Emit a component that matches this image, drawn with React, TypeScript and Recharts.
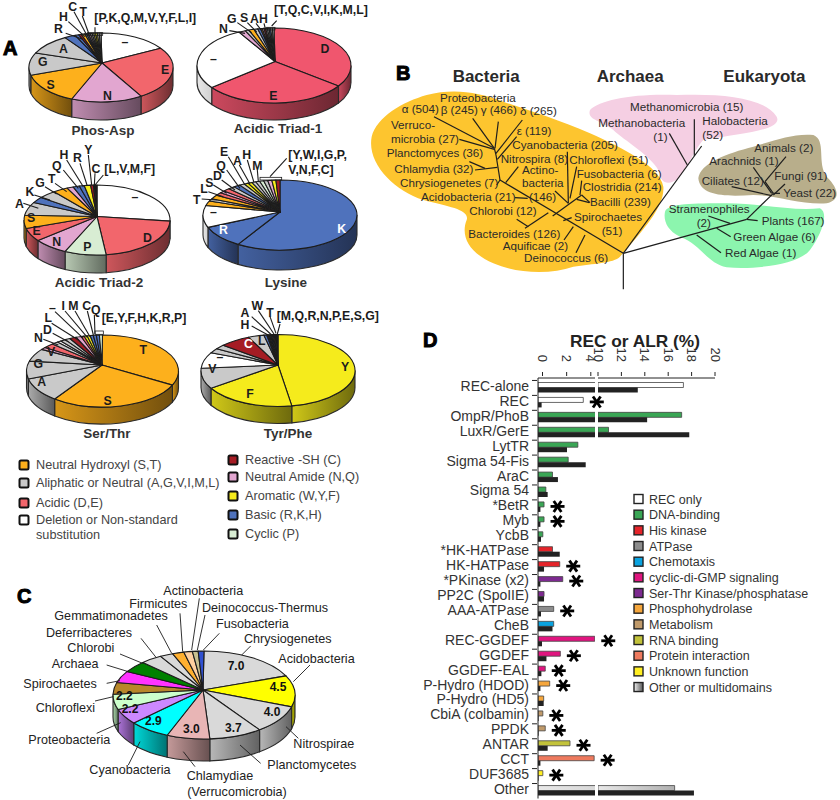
import { Bar, BarChart, Cell, ComposedChart, LabelList, Pie, PieChart, ReferenceLine, XAxis, YAxis } from "recharts";

const FONT = '"Liberation Sans", Arial, sans-serif';

// ---- residue groups (panel A) ----
const HYDROXYL = "#fdb01c";
const ALIPHATIC = "#c9c9c9";
const ACIDIC = "#f2666c";
const DELETION = "#ffffff";
const REACTIVE = "#a51c24";
const AMIDE = "#e2a6d0";
const AROMATIC = "#f5eb1c";
const BASIC = "#4f72bc";
const CYCLIC = "#d8edd3";

const residueColor: Record<string, string> = {
  S: HYDROXYL, T: HYDROXYL,
  A: ALIPHATIC, G: ALIPHATIC, V: ALIPHATIC, I: ALIPHATIC, M: ALIPHATIC, L: ALIPHATIC,
  D: ACIDIC, E: ACIDIC,
  "–": DELETION,
  C: REACTIVE,
  N: AMIDE, Q: AMIDE,
  W: AROMATIC, Y: AROMATIC, F: AROMATIC,
  R: BASIC, K: BASIC, H: BASIC,
  P: CYCLIC,
};

const phosAspResidues = ["–", "E", "N", "S", "G", "A", "R", "H", "C", "T", "P", "K", "Q", "M", "V", "Y", "F", "L", "I"];
const phosAspShares = [15.5, 25, 16, 14.7, 10.5, 9.7, 2.5, 0.8, 0.6, 0.8, 0.4, 0.4, 0.4, 0.4, 0.4, 0.4, 0.4, 0.4, 0.4];

const triad1Residues = ["D", "E", "–", "N", "G", "S", "A", "H", "T", "Q", "C", "V", "I", "K", "M", "L"];
const triad1Shares = [34.2, 30.8, 27.5, 1.4, 0.8, 1.1, 0.8, 0.6, 0.35, 0.35, 0.35, 0.35, 0.35, 0.35, 0.35, 0.35];

const triad2Residues = ["–", "D", "P", "N", "E", "S", "A", "K", "G", "T", "Q", "H", "R", "Y", "C", "L", "V", "M", "F"];
const triad2Shares = [25.5, 22.5, 9.2, 7.8, 6.1, 6.1, 6.1, 2.8, 3.9, 3.3, 1.4, 1.4, 1.1, 1.4, 0.6, 0.2, 0.2, 0.2, 0.2];

const lysineResidues = ["K", "R", "–", "T", "L", "S", "D", "Q", "E", "A", "H", "M", "Y", "W", "I", "G", "P", "V", "N", "F", "C"];
const lysineShares = [59.2, 10.1, 10.1, 2.2, 1.1, 1.9, 1.4, 1.1, 1.4, 1.4, 1.4, 1.1, 0.85, 0.85, 0.85, 0.85, 0.85, 0.85, 0.85, 0.85, 0.85];

const serThrResidues = ["T", "S", "A", "G", "V", "N", "D", "L", "–", "I", "M", "C", "Q", "E", "Y", "F", "H", "K", "R", "P"];
const serThrShares = [31.4, 29.4, 10.6, 8, 5.8, 1.1, 2.2, 1.4, 0.8, 1.1, 1.1, 1.4, 1.1, 0.65, 0.65, 0.65, 0.65, 0.65, 0.65, 0.65];

const tyrPheResidues = ["Y", "F", "V", "–", "I", "M", "C", "L", "H", "A", "W", "T", "Q", "R", "N", "P", "E", "S", "G", "K"];
const tyrPheShares = [47.2, 19.7, 9.2, 7.2, 2.2, 2, 6.4, 3.3, 0.6, 0.25, 0.25, 0.25, 0.2, 0.2, 0.2, 0.2, 0.2, 0.2, 0.2, 0.2];

// ---- panel C ----
const phylaNames = ["Chrysiogenetes", "Acidobacteria", "Nitrospirae", "Planctomycetes", "Chlamydiae", "Cyanobacteria", "Proteobacteria", "Chloroflexi", "Spirochaetes", "Archaea", "Chlorobi", "Deferribacteres", "Gemmatimonadetes", "Firmicutes", "Actinobacteria", "Deinococcus-Thermus", "Fusobacteria"];
const phylaValues = [7.0, 4.5, 4.0, 3.7, 3.0, 2.9, 2.2, 2.2, 1.7, 1.7, 1.7, 1.5, 0.9, 0.8, 0.6, 0.4, 0.4];
const phylaColors = ["#d9d9d9", "#ffff00", "#d9d9d9", "#d9d9d9", "#e8b5b5", "#00ffff", "#cc88ff", "#ccffcc", "#b8862a", "#ff33ff", "#008000", "#d9d9d9", "#d9d9d9", "#ffb030", "#ffd0a0", "#c8c090", "#3050d0"];

function shade(hex: string, f: number) {
  const n = parseInt(hex.slice(1), 16);
  const c = [n >> 16, (n >> 8) & 255, n & 255].map((v) => Math.round(v * f));
  return `rgb(${c[0]},${c[1]},${c[2]})`;
}

interface Geo { cx: number; cy: number; rx: number; ry: number; depth: number; hubX: number; hubY: number; }

// flat disc seen at an angle: recharts gives the angles, this squashes them
function tiltedSector(geo: Geo) {
  return function TiltedSector(props: any) {
    const { startAngle, endAngle, fill } = props;
    const { rx, ry, depth, hubX, hubY } = geo;
    const cx = props.cx;
    const cy = props.cy;
    const pt = (t: number, dy = 0) => {
      const a = (t * Math.PI) / 180;
      return `${(cx + rx * Math.sin(a)).toFixed(2)} ${(cy - ry * Math.cos(a) + dy).toFixed(2)}`;
    };
    const t0 = 90 - startAngle;
    const t1 = 90 - endAngle;
    const w0 = Math.max(t0, 90);
    const w1 = Math.min(t1, 270);
    const large = t1 - t0 > 180 ? 1 : 0;
    return (
      <g>
        {w1 > w0 && (
          <path
            d={`M${pt(w0)} A${rx} ${ry} 0 0 1 ${pt(w1)} L${pt(w1, depth)} A${rx} ${ry} 0 0 0 ${pt(w0, depth)} Z`}
            fill={`url(#side${fill.slice(1)})`}
            stroke="#2a2a2a"
            strokeWidth={1.1}
          />
        )}
        <path
          d={`M${hubX} ${hubY} L${pt(t0)} A${rx} ${ry} 0 ${large} 1 ${pt(t1)} Z`}
          fill={fill}
          stroke="#1c1c1c"
          strokeWidth={1.1}
          strokeLinejoin="round"
        />
      </g>
    );
  };
}

const table = (names: string[], values: number[], colors: string[]) =>
  names.map((name, i) => ({ name, value: values[i], fill: colors[i] }));
const residueTable = (names: string[], values: number[]) =>
  table(names, values, names.map((n) => residueColor[n]));

const pies: { data: any[]; geo: Geo }[] = [
  { data: residueTable(phosAspResidues, phosAspShares), geo: { cx: 101, cy: 67.5, rx: 72, ry: 34.5, depth: 18, hubX: 102, hubY: 63 } },
  { data: residueTable(triad1Residues, triad1Shares).map((d) => (d.fill === ACIDIC ? { ...d, fill: "#f0566e" } : d)), geo: { cx: 274, cy: 65.5, rx: 77, ry: 37.5, depth: 17, hubX: 275, hubY: 61.5 } },
  { data: residueTable(triad2Residues, triad2Shares), geo: { cx: 97, cy: 220, rx: 73, ry: 35, depth: 18, hubX: 97, hubY: 216.5 } },
  { data: residueTable(lysineResidues, lysineShares), geo: { cx: 280, cy: 215, rx: 77, ry: 35, depth: 20, hubX: 280, hubY: 212 } },
  { data: residueTable(serThrResidues, serThrShares), geo: { cx: 102.5, cy: 371, rx: 76, ry: 36, depth: 17, hubX: 102, hubY: 365 } },
  { data: residueTable(tyrPheResidues, tyrPheShares), geo: { cx: 278, cy: 370.5, rx: 77, ry: 36, depth: 17, hubX: 278, hubY: 365 } },
  { data: table(phylaNames, phylaValues, phylaColors), geo: { cx: 204, cy: 695, rx: 91, ry: 44, depth: 22, hubX: 203, hubY: 690 } },
];

const sideColors = Array.from(new Set(pies.flatMap((p) => p.data.map((d) => d.fill as string))));

// ---- annotations: [text, x, y] at 3x of the page, lines are x1,y1,x2,y2 ----
type Lbl = [string, number, number, string?];
const blockA1Letters: Lbl[] = [
  ["–", 375, 125], ["E", 495, 208], ["N", 322, 285], ["S", 152, 254], ["G", 128, 185], ["A", 190, 145],
  ["R", 175, 85], ["H", 190, 48], ["C", 218, 20], ["T", 250, 35],
  ["–", 640, 175], ["D", 975, 145], ["E", 820, 285],
  ["N", 670, 85], ["G", 695, 55], ["S", 732, 52], ["A", 763, 55], ["H", 790, 55],
  ["–", 405, 590], ["D", 442, 712], ["P", 262, 738], ["N", 170, 725], ["E", 110, 692], ["S", 93, 653],
  ["A", 58, 610], ["K", 90, 575], ["G", 120, 548], ["T", 155, 535], ["Q", 170, 495], ["H", 192, 462], ["R", 232, 472], ["Y", 265, 448], ["C", 288, 505],
  ["–", 640, 635], ["R", 670, 688, "#fff"], ["K", 1025, 685, "#fff"],
  ["T", 590, 597], ["L", 612, 565], ["S", 628, 548], ["D", 652, 525], ["Q", 663, 495], ["E", 672, 455], ["A", 712, 480], ["H", 740, 462], ["M", 772, 495],
];
const blockA1Groups: Lbl[] = [
  ["[P,K,Q,M,V,Y,F,L,I]", 283, 67], ["[T,Q,C,V,I,K,M,L]", 822, 42], ["[L,V,M,F]", 313, 520], ["[Y,W,I,G,P,", 865, 478], ["V,N,F,C]", 865, 522],
];
const blockA1Lines = [
  [197, 100, 248, 118], [205, 65, 255, 110], [222, 35, 262, 108], [247, 48, 268, 105], [285, 82, 285, 98],
  [688, 92, 735, 100], [712, 68, 755, 98], [742, 68, 770, 96], [768, 70, 785, 92], [792, 70, 797, 90], [815, 78, 830, 62],
  [70, 610, 115, 625], [103, 585, 150, 600], [135, 560, 170, 582], [165, 550, 200, 575], [190, 510, 235, 565], [200, 480, 250, 560], [240, 490, 262, 558], [265, 465, 275, 555], [285, 520, 283, 555], [310, 525, 285, 555],
  [605, 597, 650, 600], [625, 575, 670, 590], [640, 555, 680, 580], [665, 540, 705, 570], [680, 510, 720, 565], [685, 470, 735, 555], [718, 495, 750, 552], [742, 480, 762, 548], [772, 510, 775, 545], [860, 475, 810, 530],
];
const blockA1Brackets = [[262, 98, 46, 8], [800, 82, 25, 8], [780, 532, 65, 8]];

const blockA2Letters: Lbl[] = [
  ["T", 430, 297], ["S", 323, 450], ["A", 125, 394], ["G", 115, 340], ["V", 153, 305],
  ["N", 115, 262], ["D", 142, 238], ["L", 145, 203], ["–", 157, 172], ["I", 190, 167], ["M", 220, 167], ["C", 260, 167], ["Q", 287, 178],
  ["Y", 1035, 348], ["F", 750, 430], ["V", 637, 355], ["–", 660, 318], ["C", 745, 280, "#fff"], ["L", 785, 272],
  ["H", 735, 222], ["A", 735, 187], ["W", 772, 165], ["T", 810, 187],
];
const blockA2Groups: Lbl[] = [["[E,Y,F,H,K,R,P]", 305, 215], ["[M,Q,R,N,P,E,S,G]", 830, 210]];
const blockA2Lines = [
  [130, 268, 175, 285], [158, 250, 205, 275], [155, 220, 235, 270], [165, 185, 250, 265], [195, 183, 262, 262], [225, 183, 270, 260], [262, 183, 280, 255], [283, 195, 285, 252],
  [755, 228, 810, 258], [755, 200, 815, 255], [775, 182, 822, 252], [810, 200, 828, 250], [840, 222, 832, 252],
];
const blockA2Brackets = [[285, 243, 25, 10]];

const pieTitles: Lbl[] = [
  ["Phos-Asp", 103, 135], ["Acidic Triad-1", 278, 133], ["Acidic Triad-2", 99, 287], ["Lysine", 286, 287], ["Ser/Thr", 107, 438], ["Tyr/Phe", 288, 438],
];

const legendA: [string, string, number, number][] = [
  ["Neutral Hydroxyl (S,T)", HYDROXYL, 24, 465],
  ["Aliphatic or Neutral (A,G,V,I,M,L)", ALIPHATIC, 24, 483],
  ["Acidic (D,E)", ACIDIC, 24, 503],
  ["Deletion or Non-standard", DELETION, 24, 520],
  ["Reactive -SH (C)", REACTIVE, 233, 460],
  ["Neutral Amide (N,Q)", AMIDE, 233, 477],
  ["Aromatic (W,Y,F)", AROMATIC, 233, 496],
  ["Basic (R,K,H)", BASIC, 233, 515],
  ["Cyclic (P)", CYCLIC, 233, 534],
];

const blockCLabels: Lbl[] = [
  ["Actinobacteria", 490, 75], ["Firmicutes", 388, 113], ["Deinococcus-Thermus", 606, 125], ["Gemmatimonadetes", 163, 150],
  ["Fusobacteria", 648, 175], ["Chrysiogenetes", 732, 220], ["Deferribacteres", 138, 202], ["Chlorobi", 202, 247],
  ["Acidobacteria", 835, 279], ["Archaea", 155, 293], ["Spirochaetes", 70, 354], ["Chloroflexi", 107, 425],
  ["Proteobacteria", 85, 522], ["Cyanobacteria", 268, 612], ["Chlamydiae", 560, 630], ["(Verrucomicrobia)", 562, 677],
  ["Planctomycetes", 802, 597], ["Nitrospirae", 880, 535],
];
const blockCLines = [
  [598, 85, 575, 240], [540, 130, 548, 245], [615, 135, 592, 240], [470, 165, 515, 250], [658, 190, 610, 240], [752, 228, 725, 255],
  [423, 205, 468, 262], [360, 252, 428, 280], [930, 285, 880, 335], [320, 285, 385, 305], [320, 340, 360, 332], [285, 393, 340, 380],
  [290, 490, 362, 458], [385, 585, 420, 515], [585, 590, 550, 545], [782, 580, 720, 525], [895, 505, 858, 470],
];
const blockCValues: Lbl[] = [
  ["7.0", 708, 288], ["4.5", 834, 350], ["4.0", 816, 425], ["3.7", 700, 473], ["3.0", 574, 477], ["2.9", 460, 453], ["2.2", 390, 417], ["2.2", 373, 377],
];

function PanelLetter({ x, y, children }: any) {
  return (
    <text x={x} y={y} fontFamily={FONT} fontWeight="bold" fontSize={20} fill="#000" stroke="#000" strokeWidth={1}>
      {children}
    </text>
  );
}

function Segments({ lines, oy = 0, width = 1.1 }: any) {
  return (
    <g stroke="#1c1c1c" strokeWidth={width}>
      {lines.map((l: number[], i: number) => (
        <line key={i} x1={l[0] / 3} y1={oy + l[1] / 3} x2={l[2] / 3} y2={oy + l[3] / 3} />
      ))}
    </g>
  );
}

function Letters({ items, oy = 0 }: any) {
  return (
    <g fontFamily={FONT} fontSize={12.3} fontWeight="bold" textAnchor="middle">
      {items.map((t: Lbl, i: number) => (
        <text key={i} x={t[1] / 3} y={oy + t[2] / 3 + 4.5} fill={t[3] ?? "#1c1c1c"}>
          {t[0]}
        </text>
      ))}
    </g>
  );
}

function Groups({ items, oy = 0 }: any) {
  return (
    <g fontFamily={FONT} fontSize={12.3} fontWeight="bold" fill="#1c1c1c">
      {items.map((t: Lbl, i: number) => (
        <text key={i} x={t[1] / 3} y={oy + t[2] / 3}>
          {t[0]}
        </text>
      ))}
    </g>
  );
}

function Brackets({ items, oy = 0 }: any) {
  return (
    <g fill="none" stroke="#1c1c1c" strokeWidth={0.8}>
      {items.map((b: number[], i: number) => (
        <rect key={i} x={b[0] / 3} y={oy + b[1] / 3} width={b[2] / 3} height={b[3] / 3} />
      ))}
    </g>
  );
}

function Swatch({ x, y, fill, size = 9 }: any) {
  return <rect x={x - size / 2} y={y - size / 2} width={size} height={size} rx={1.5} fill={fill} stroke="#111" strokeWidth={2} />;
}

const overlay = { position: "absolute" as const, left: 0, top: 0, pointerEvents: "none" as const };

function PiesPanel() {
  return (
    <>
      <div style={{ position: "absolute", left: 0, top: 0 }}>
        <PieChart width={380} height={800} margin={{ top: 0, right: 0, bottom: 0, left: 0 }}>
          <defs>
            {sideColors.map((c) => (
              <linearGradient key={c} id={`side${c.slice(1)}`} x1="0" y1="0" x2="1" y2="0">
                <stop offset="0%" stopColor={c === DELETION ? "#e8e8e8" : shade(c, 0.85)} />
                <stop offset="100%" stopColor={c === DELETION ? "#d0d0d0" : shade(c, 0.45)} />
              </linearGradient>
            ))}
          </defs>
          {pies.map((p, i) => (
            <Pie
              key={i}
              data={p.data}
              dataKey="value"
              nameKey="name"
              cx={p.geo.cx}
              cy={p.geo.cy}
              outerRadius={p.geo.rx}
              startAngle={90}
              endAngle={-270}
              isAnimationActive={false}
              labelLine={false}
              shape={tiltedSector(p.geo)}
            />
          ))}
        </PieChart>
      </div>
      <svg width={380} height={800} style={overlay}>
        <Segments lines={blockA1Lines} />
        <Segments lines={blockA2Lines} oy={250} />
        <Segments lines={blockCLines} oy={570} width={0.9} />
        <Brackets items={blockA1Brackets} />
        <Brackets items={blockA2Brackets} oy={250} />
        <Letters items={blockA1Letters} />
        <Letters items={blockA2Letters} oy={250} />
        <Groups items={blockA1Groups} />
        <Groups items={blockA2Groups} oy={250} />
        <g fontFamily={FONT} fontWeight="bold" fontSize={13.5} fill="#333" textAnchor="middle">
          {pieTitles.map((t) => (
            <text key={t[0]} x={t[1]} y={t[2]}>{t[0]}</text>
          ))}
        </g>
        <g fontFamily={FONT} fontSize={12.7} fill="#444">
          {legendA.map((l) => (
            <g key={l[0]}>
              <Swatch x={l[2]} y={l[3]} fill={l[1]} />
              <text x={l[2] + 12} y={l[3] + 4}>{l[0]}</text>
            </g>
          ))}
          <text x={36} y={539}>substitution</text>
        </g>
        <g fontFamily={FONT} fontSize={12.6} fill="#222">
          {blockCLabels.map((t) => (
            <text key={t[0]} x={t[1] / 3} y={570 + t[2] / 3}>{t[0]}</text>
          ))}
        </g>
        <g fontFamily={FONT} fontSize={12} fontWeight="bold" fill="#111" textAnchor="middle">
          {blockCValues.map((t, i) => (
            <text key={i} x={t[1] / 3} y={570 + t[2] / 3 + 4}>{t[0]}</text>
          ))}
        </g>
        <PanelLetter x={3} y={55}>A</PanelLetter>
        <PanelLetter x={17} y={603}>C</PanelLetter>
      </svg>
    </>
  );
}

// ---- panel B: tree, coordinates in a 1440x870 frame ----
const treeBranches = [
  [790, 778, 790, 670], [790, 670, 420, 450], [420, 450, 408, 375], [408, 375, 403, 355],
  [222, 260, 403, 355], [338, 265, 403, 355], [415, 275, 405, 355], [487, 270, 408, 370], [470, 320, 412, 388],
  [298, 328, 403, 358], [328, 395, 375, 415], [345, 420, 412, 412], [410, 465, 420, 450], [475, 410, 437, 458],
  [465, 503, 503, 505], [470, 568, 505, 590], [495, 595, 565, 548],
  [578, 558, 665, 495], [665, 495, 690, 518], [625, 520, 622, 365], [625, 520, 585, 483], [630, 505, 650, 410],
  [660, 495, 665, 452], [650, 508, 688, 518], [635, 563, 610, 572], [640, 590, 612, 630], [675, 615, 648, 668],
  [790, 670, 1025, 348], [928, 310, 982, 405], [1003, 268, 1003, 378],
  [790, 670, 1160, 568], [1160, 568, 1240, 490], [1160, 568, 1193, 572], [1045, 558, 1110, 580], [1070, 595, 1112, 620], [1010, 615, 1083, 668],
  [1240, 490, 1215, 455], [1215, 455, 1278, 380], [1180, 412, 1235, 490], [1115, 470, 1235, 497], [1260, 490, 1240, 490], [1275, 462, 1240, 495],
];
const treeLabels: [string, number, number][] = [
  ["Proteobacteria", 240, 215], ["α (504)", 125, 248], ["β (245)", 242, 252], ["γ (466)", 362, 253], ["δ (265)", 480, 256],
  ["Verruco-", 93, 298], ["microbia (27)", 93, 338], ["ε (119)", 470, 316], ["Cyanobacteria (205)", 457, 358],
  ["Planctomyces (36)", 80, 382], ["Nitrospira (8)", 422, 398], ["Chloroflexi (51)", 628, 402], ["Chlamydia (32)", 103, 428],
  ["Actino-", 486, 432], ["Fusobacteria (6)", 650, 443], ["Chrysiogenetes (7)", 120, 472], ["bacteria", 486, 472],
  ["Clostridia (214)", 668, 482], ["Acidobacteria (21)", 183, 512], ["(146)", 507, 514], ["Bacilli (239)", 690, 528],
  ["Chlorobi (12)", 328, 556], ["Spirochaetes", 642, 572], ["(51)", 725, 614], ["Bacteroides (126)", 325, 623],
  ["Aquificae (2)", 428, 660], ["Deinococcus (6)", 492, 697],
  ["Methanomicrobia (15)", 810, 242], ["Methanobacteria", 715, 290], ["Halobacteria", 1027, 286], ["(1)", 880, 332], ["(52)", 1027, 328],
  ["Animals (2)", 1183, 366], ["Arachnids (1)", 1048, 406], ["Fungi (91)", 1243, 450], ["Ciliates (12)", 1025, 465], ["Yeast (22)", 1270, 500],
  ["Stramenophiles", 926, 549], ["Plants (167)", 1205, 585], ["(2)", 1010, 592], ["Green Algae (6)", 1120, 634], ["Red Algae (1)", 1095, 681],
];
const domainTitles: [string, number, number][] = [["Bacteria", 278, 155], ["Archaea", 710, 155], ["Eukaryota", 1090, 155]];
const blobs: [string, string][] = [
  ["#fdc52f", "M35,320 C50,260 130,215 200,195 C280,175 350,185 430,215 C500,240 600,270 690,310 C790,355 900,410 910,470 C915,530 850,600 780,680 C760,700 700,700 640,710 C570,735 470,730 400,700 C330,670 300,620 320,570 C330,540 270,530 190,510 C100,480 20,400 35,320 Z"],
  ["#f5cfe3", "M690,240 C720,210 820,190 950,195 C1080,190 1210,200 1250,260 C1270,300 1150,310 1030,330 C1010,350 1000,380 960,440 C930,470 900,460 900,430 C880,380 790,330 760,300 C720,270 680,270 690,240 Z"],
  ["#b8ae8b", "M1015,445 C1020,400 1100,370 1180,350 C1250,330 1300,310 1360,315 C1400,330 1370,400 1400,440 C1440,480 1440,510 1400,520 C1320,525 1250,495 1180,495 C1100,500 1020,500 1015,445 Z"],
  ["#8cf5ae", "M915,545 C925,520 1000,520 1100,520 C1200,520 1300,545 1380,535 C1410,550 1380,620 1350,660 C1320,700 1200,720 1100,712 C1040,700 1020,640 960,620 C920,600 910,570 915,545 Z"],
];

function TreePanel() {
  return (
    <div style={{ position: "absolute", left: 360, top: 30 }}>
      <ComposedChart width={480} height={290} margin={{ top: 0, right: 0, bottom: 0, left: 0 }} data={[{ x: 0, y: 0 }]}>
        <XAxis type="number" dataKey="x" domain={[0, 1440]} hide />
        <YAxis type="number" dataKey="y" domain={[0, 870]} reversed hide />
        <g transform="scale(0.33333)">
          {blobs.map((b) => (
            <path key={b[0]} d={b[1]} fill={b[0]} />
          ))}
        </g>
        {treeBranches.map((b, i) => (
          <ReferenceLine
            key={i}
            segment={[{ x: b[0], y: b[1] }, { x: b[2], y: b[3] }]}
            stroke="#1e1e1e"
            strokeWidth={1.2}
            ifOverflow="visible"
          />
        ))}
      </ComposedChart>
      <svg width={480} height={290} style={overlay}>
        <g transform="scale(0.33333)" fontFamily={FONT}>
          {treeLabels.map((t) => (
            <text key={t[0]} x={t[1]} y={t[2]} fontSize={35} fill="#2a2a2a">{t[0]}</text>
          ))}
          {domainTitles.map((t) => (
            <text key={t[0]} x={t[1]} y={t[2]} fontSize={51} fontWeight="bold" fill="#2a2a2a">{t[0]}</text>
          ))}
        </g>
        <PanelLetter x={36} y={50}>B</PanelLetter>
      </svg>
    </div>
  );
}

// ---- panel D ----
const REC_ONLY = "#ffffff";
const DNA = "#3aa655";
const HIS_KINASE = "#e5242a";
const ATPASE = "#8c8c8c";
const CHEMOTAXIS = "#0aa3e0";
const CDG = "#e0157f";
const SER_THR = "#7d2a90";
const PHOSPHO = "#f5a63c";
const METABOLISM = "#c09a6a";
const RNA = "#c2c23a";
const PROTEIN = "#ee7a5e";
const UNKNOWN = "#ffee22";
const OTHER = "url(#otherFill)";

const domainNames = ["REC-alone", "REC", "OmpR/PhoB", "LuxR/GerE", "LytTR", "Sigma 54-Fis", "AraC", "Sigma 54", "*BetR", "Myb", "YcbB", "*HK-HATPase", "HK-HATPase", "*PKinase (x2)", "PP2C (SpoIIE)", "AAA-ATPase", "CheB", "REC-GGDEF", "GGDEF", "GGDEF-EAL", "P-Hydro (HDOD)", "P-Hydro (HD5)", "CbiA (colbamin)", "PPDK", "ANTAR", "CCT", "DUF3685", "Other"];
const recShare = [17.3, 3.75, 17.15, 10.9, 3.3, 2.5, 1.2, 0.65, 0.5, 0.5, 0.4, 1.2, 1.8, 2.05, 0.5, 1.3, 1.3, 4.7, 1.85, 0.6, 0.97, 0.47, 0.4, 0.6, 2.65, 4.65, 0.4, 16.55];
const alrShare = [13.4, 0.3, 14.2, 17.8, 2.4, 3.95, 1.65, 0.8, 0.2, 0.2, 0.25, 1.8, 0.5, 0.2, 0.5, 0.25, 1.2, 0.33, 0.7, 0.28, 0.2, 0.47, 0.05, 0.05, 0.8, 0.2, 0.05, 18.2];
const domainColors = [REC_ONLY, REC_ONLY, DNA, DNA, DNA, DNA, DNA, DNA, DNA, DNA, DNA, HIS_KINASE, HIS_KINASE, SER_THR, SER_THR, ATPASE, CHEMOTAXIS, CDG, CDG, CDG, PHOSPHO, PHOSPHO, METABOLISM, METABOLISM, RNA, PROTEIN, UNKNOWN, OTHER];
const starred = ["REC", "*BetR", "Myb", "HK-HATPase", "*PKinase (x2)", "AAA-ATPase", "REC-GGDEF", "GGDEF", "GGDEF-EAL", "P-Hydro (HDOD)", "CbiA (colbamin)", "PPDK", "ANTAR", "CCT", "DUF3685"];

const lowTicks = [0, 2, 4];
const highTicks = [10, 12, 14, 16, 18, 20];

const lowRows = domainNames.map((name, i) => ({ name, rec: recShare[i], alr: alrShare[i] }));
const highRows = domainNames.map((name, i) => ({
  name,
  rec: recShare[i] >= 10 ? recShare[i] : null,
  alr: alrShare[i] >= 10 ? alrShare[i] : null,
}));

const legendD: [string, string][] = [
  ["REC only", REC_ONLY], ["DNA-binding", DNA], ["His kinase", HIS_KINASE], ["ATPase", ATPASE], ["Chemotaxis", CHEMOTAXIS],
  ["cyclic-di-GMP signaling", CDG], ["Ser-Thr Kinase/phosphatase", SER_THR], ["Phosphohydrolase", PHOSPHO], ["Metabolism", METABOLISM],
  ["RNA binding", RNA], ["Protein interaction", PROTEIN], ["Unknown function", UNKNOWN], ["Other or multidomains", OTHER],
];

function RotTick({ x, y, payload, shift }: any) {
  const px = x + shift;
  return (
    <g>
      <line x1={px} y1={y + 6} x2={px} y2={y + 2} stroke="#222" />
      <text transform={`translate(${px - 4.5},${y - 8}) rotate(90)`} fontFamily={FONT} fontSize={13} fill="#333" textAnchor="end">
        {payload.value}
      </text>
    </g>
  );
}

function NameTick({ x, y, payload }: any) {
  return (
    <g>
      <line x1={x + 2} y1={y - 7.5} x2={x + 7} y2={y - 7.5} stroke="#222" />
      <text x={x - 1} y={y + 3} textAnchor="end" fontFamily={FONT} fontSize={14} fill="#333">
        {payload.value}
      </text>
    </g>
  );
}

function Star({ x, y, width, height, index }: any) {
  if (!starred.includes(domainNames[index])) return null;
  const cx = x + width + 13.5;
  const cy = y + height / 2 + 2;
  return (
    <g stroke="#000" strokeWidth={2.8} strokeLinecap="butt">
      <line x1={cx - 7} y1={cy} x2={cx + 7} y2={cy} />
      <line x1={cx - 3.8} y1={cy - 5.5} x2={cx + 3.8} y2={cy + 5.5} />
      <line x1={cx - 3.8} y1={cy + 5.5} x2={cx + 3.8} y2={cy - 5.5} />
    </g>
  );
}

const PLOT_H = 420.5;

function BarsPanel() {
  const chartProps = { layout: "vertical" as const, height: 32 + PLOT_H, barSize: 5, barGap: 0, barCategoryGap: 0 };
  return (
    <>
      <div style={{ position: "absolute", left: 380, top: 346 }}>
        <BarChart {...chartProps} width={255} data={lowRows} margin={{ top: 0, right: 40, bottom: 0, left: 0 }}>
          <XAxis
            type="number"
            orientation="top"
            height={32}
            domain={[0, 4.72]}
            allowDataOverflow
            ticks={lowTicks}
            tickLine={false}
            stroke="#222"
            tick={<RotTick shift={4.5} />}
            interval={0}
          />
          <YAxis
            type="category"
            dataKey="name"
            width={158}
            interval={0}
            stroke="#222"
            tickLine={false}
            tick={<NameTick />}
            padding={{ top: 2.5, bottom: 0 }}
          />
          <Bar dataKey="rec" stroke="#444" strokeWidth={0.8} isAnimationActive={false}>
            {domainColors.map((c, i) => (
              <Cell key={i} fill={c} />
            ))}
            <LabelList dataKey="rec" content={<Star />} />
          </Bar>
          <Bar dataKey="alr" fill="#222" isAnimationActive={false} />
        </BarChart>
      </div>
      <div style={{ position: "absolute", left: 578, top: 346 }}>
        <BarChart {...chartProps} width={147} data={highRows} margin={{ top: 0, right: 10, bottom: 0, left: 20 }}>
          <defs>
            <linearGradient id="otherFill" x1="0" y1="0" x2="1" y2="0">
              <stop offset="0%" stopColor="#e8e8e8" />
              <stop offset="100%" stopColor="#b0b0b0" />
            </linearGradient>
          </defs>
          <XAxis
            type="number"
            orientation="top"
            height={32}
            domain={[10, 20]}
            allowDataOverflow
            ticks={highTicks}
            tickLine={false}
            stroke="#222"
            tick={<RotTick shift={0} />}
            interval={0}
          />
          <YAxis type="category" dataKey="name" hide width={0} padding={{ top: 2.5, bottom: 0 }} />
          <Bar dataKey="rec" stroke="#444" strokeWidth={0.8} isAnimationActive={false}>
            {domainColors.map((c, i) => (
              <Cell key={i} fill={c} />
            ))}
          </Bar>
          <Bar dataKey="alr" fill="#222" isAnimationActive={false} />
        </BarChart>
      </div>
      <svg width={840} height={800} style={overlay}>
        <text x={570} y={347} fontFamily={FONT} fontSize={17.3} fontWeight="bold" fill="#222">REC or ALR (%)</text>
        <PanelLetter x={423} y={347}>D</PanelLetter>
        <defs>
          <linearGradient id="otherSwatch" x1="0" y1="0" x2="1" y2="0">
            <stop offset="0%" stopColor="#f0f0f0" />
            <stop offset="100%" stopColor="#555" />
          </linearGradient>
        </defs>
        <g fontFamily={FONT} fontSize={12.5} fill="#333">
          {legendD.map((l, i) => {
            const y = 499 + i * 15.67;
            return (
              <g key={l[0]}>
                <rect x={634} y={y - 4.5} width={9} height={9} fill={l[1] === OTHER ? "url(#otherSwatch)" : l[1]} stroke="#222" strokeWidth={1.4} />
                <text x={649} y={y + 4.5}>{l[0]}</text>
              </g>
            );
          })}
        </g>
      </svg>
    </>
  );
}

export default function App() {
  return (
    <div style={{ position: "absolute", left: 0, top: 0, width: 840, height: 800, background: "#fff", overflow: "hidden" }}>
      <PiesPanel />
      <TreePanel />
      <BarsPanel />
    </div>
  );
}
